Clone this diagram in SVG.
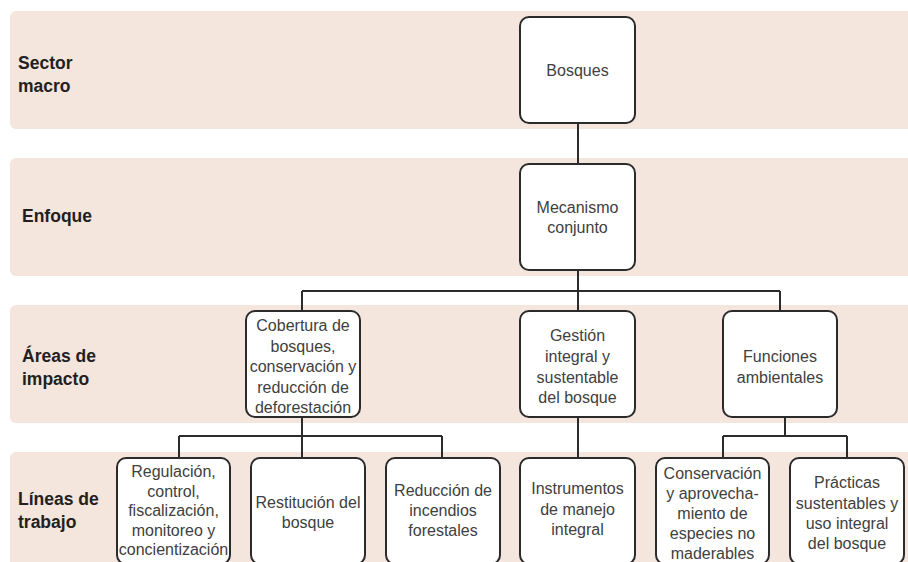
<svg xmlns="http://www.w3.org/2000/svg" width="908" height="562" viewBox="0 0 908 562">
<style>
.band{fill:#f4e5dd}
.lbl{font-family:"Liberation Sans",Arial,sans-serif;font-size:17.5px;font-weight:bold;fill:#231f20}
.box{fill:#ffffff;stroke:#2b2b2b;stroke-width:2}
.t{font-family:"Liberation Sans",Arial,sans-serif;font-size:16px;fill:#404040;text-anchor:middle}
.c{fill:none;stroke:#2b2b2b;stroke-width:2}
</style>
<rect width="908" height="562" fill="#ffffff"/>
<g id="bands">
<rect class="band" x="10" y="11" width="910" height="118" rx="6"/>
<rect class="band" x="10" y="158" width="910" height="118" rx="6"/>
<rect class="band" x="10" y="305" width="910" height="118" rx="6"/>
<rect class="band" x="10" y="452" width="910" height="130" rx="6"/>
</g>
<g id="labels">
<text class="lbl" x="18" y="69">Sector</text>
<text class="lbl" x="18" y="92">macro</text>
<text class="lbl" x="22" y="222">Enfoque</text>
<text class="lbl" x="22" y="362">Áreas de</text>
<text class="lbl" x="22" y="385">impacto</text>
<text class="lbl" x="18" y="505">Líneas de</text>
<text class="lbl" x="18" y="528">trabajo</text>
</g>
<g id="connectors">
<path class="c" d="M578 123V164"/>
<path class="c" d="M578 270V291M302 291H780M302 291V311M578 291V311M780 291V311"/>
<path class="c" d="M302 417V458M179 436H442M179 436V458M442 436V458"/>
<path class="c" d="M578 417V458"/>
<path class="c" d="M785 417V436M723 436H847M723 436V458M847 436V458"/>
</g>
<g id="n-bosques">
<rect class="box" x="520" y="17" width="115" height="106" rx="9"/>
<text class="t" x="577.5" y="76">Bosques</text>
</g>
<g id="n-mecanismo">
<rect class="box" x="520" y="164" width="115" height="106" rx="9"/>
<text class="t" x="577.5" y="212.5">Mecanismo</text>
<text class="t" x="577.5" y="233">conjunto</text>
</g>
<g id="n-cobertura">
<rect class="box" x="246" y="311" width="114" height="106" rx="9"/>
<text class="t" x="303" y="331">Cobertura de</text>
<text class="t" x="303" y="351.5">bosques,</text>
<text class="t" x="303" y="372">conservación y</text>
<text class="t" x="303" y="392.5">reducción de</text>
<text class="t" x="303" y="413">deforestación</text>
</g>
<g id="n-gestion">
<rect class="box" x="520" y="311" width="115" height="106" rx="9"/>
<text class="t" x="577.5" y="341">Gestión</text>
<text class="t" x="577.5" y="362">integral y</text>
<text class="t" x="577.5" y="383">sustentable</text>
<text class="t" x="577.5" y="403">del bosque</text>
</g>
<g id="n-funciones">
<rect class="box" x="723" y="311" width="114" height="106" rx="9"/>
<text class="t" x="780" y="362">Funciones</text>
<text class="t" x="780" y="383">ambientales</text>
</g>
<g id="n-regulacion">
<rect class="box" x="117" y="458" width="113" height="106" rx="9"/>
<text class="t" x="173.5" y="477">Regulación,</text>
<text class="t" x="173.5" y="496.5">control,</text>
<text class="t" x="173.5" y="516">fiscalización,</text>
<text class="t" x="173.5" y="535.5">monitoreo y</text>
<text class="t" x="173.5" y="555">concientización</text>
</g>
<g id="n-restitucion">
<rect class="box" x="251" y="458" width="114" height="106" rx="9"/>
<text class="t" x="308" y="508">Restitución del</text>
<text class="t" x="308" y="528">bosque</text>
</g>
<g id="n-reduccion">
<rect class="box" x="386" y="458" width="114" height="106" rx="9"/>
<text class="t" x="443" y="496">Reducción de</text>
<text class="t" x="443" y="516">incendios</text>
<text class="t" x="443" y="536">forestales</text>
</g>
<g id="n-instrumentos">
<rect class="box" x="520" y="458" width="115" height="106" rx="9"/>
<text class="t" x="577.5" y="494">Instrumentos</text>
<text class="t" x="577.5" y="515">de manejo</text>
<text class="t" x="577.5" y="535">integral</text>
</g>
<g id="n-conservacion">
<rect class="box" x="656" y="458" width="113" height="106" rx="9"/>
<text class="t" x="712.5" y="479">Conservación</text>
<text class="t" x="712.5" y="499">y aprovecha-</text>
<text class="t" x="712.5" y="519">miento de</text>
<text class="t" x="712.5" y="539">especies no</text>
<text class="t" x="712.5" y="559">maderables</text>
</g>
<g id="n-practicas">
<rect class="box" x="790" y="458" width="114" height="106" rx="9"/>
<text class="t" x="847" y="488">Prácticas</text>
<text class="t" x="847" y="509">sustentables y</text>
<text class="t" x="847" y="529">uso integral</text>
<text class="t" x="847" y="549">del bosque</text>
</g>
</svg>
